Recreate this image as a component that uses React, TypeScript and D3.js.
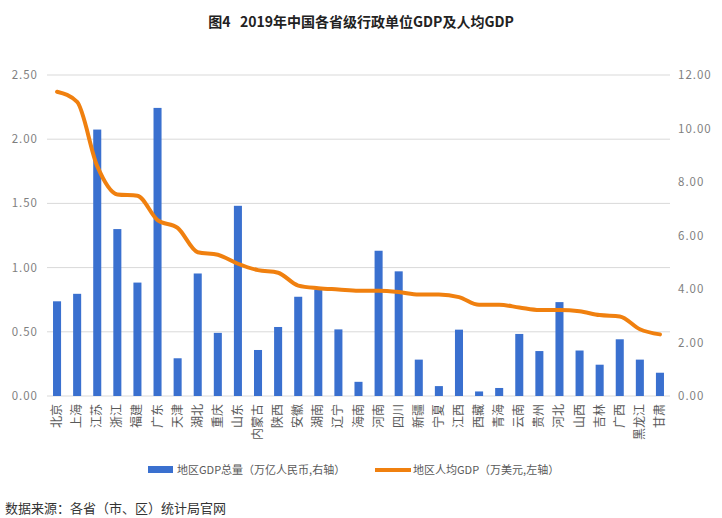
import React from 'react';
import * as d3 from 'd3';

const provinces = ['北京', '上海', '江苏', '浙江', '福建', '广东', '天津', '湖北', '重庆', '山东', '内蒙古', '陕西', '安徽', '湖南', '辽宁', '海南', '河南', '四川', '新疆', '宁夏', '江西', '西藏', '青海', '云南', '贵州', '河北', '山西', '吉林', '广西', '黑龙江', '甘肃'];
// 地区GDP总量 (万亿人民币, right axis)
const gdpTotal = [3.54, 3.82, 9.96, 6.24, 4.24, 10.77, 1.41, 4.58, 2.36, 7.11, 1.72, 2.58, 3.71, 3.98, 2.49, 0.53, 5.43, 4.66, 1.36, 0.37, 2.48, 0.17, 0.30, 2.32, 1.68, 3.51, 1.70, 1.17, 2.12, 1.36, 0.87];
// 地区人均GDP (万美元, left axis)
const gdpPerCapita = [2.37, 2.29, 1.79, 1.57, 1.56, 1.37, 1.31, 1.12, 1.10, 1.03, 0.98, 0.96, 0.86, 0.84, 0.83, 0.82, 0.82, 0.81, 0.79, 0.79, 0.77, 0.71, 0.71, 0.69, 0.67, 0.67, 0.66, 0.63, 0.62, 0.52, 0.48];
const leftTicks = [0, 0.5, 1, 1.5, 2, 2.5];
const rightTicks = [0, 2, 4, 6, 8, 10, 12];

const W = 722;
const H = 518;
const margin = { left: 47, right: 52, top: 75, bottom: 122 };
const BLUE = '#3a70cf';
const ORANGE = '#f0800f';
const font = '"Noto Sans CJK SC", "Noto Sans", sans-serif';

export default function App() {
  const x = d3.scaleBand().domain(provinces).range([margin.left, W - margin.right]).paddingInner(0.6).paddingOuter(0.3);
  const yLeft = d3.scaleLinear().domain([0, 2.5]).range([H - margin.bottom, margin.top]);
  const yRight = d3.scaleLinear().domain([0, 12]).range([H - margin.bottom, margin.top]);
  const cx = (p: string) => (x(p) as number) + x.bandwidth() / 2;

  const line = d3.line<number>()
    .x((_, i) => cx(provinces[i]))
    .y(d => yLeft(d))
    .curve(d3.curveMonotoneX);

  return (
    <svg width={W} height={H} style={{ position: 'absolute', left: 0, top: 0, background: '#fff' }} fontFamily={font}>
      <text x={361} y={27} textAnchor="middle" fontSize={14} fontWeight="bold" fill="#222" style={{ whiteSpace: 'pre' }}>{'图4   2019年中国各省级行政单位GDP及人均GDP'}</text>

      {leftTicks.map(t => (
        <g key={'l' + t}>
          <line x1={margin.left} x2={W - margin.right} y1={yLeft(t)} y2={yLeft(t)} stroke="#d9d9d9" strokeWidth={1} />
          <text x={38} y={yLeft(t) + 4} textAnchor="end" fontSize={11.5} fill="#7f7f7f" letterSpacing={1}>{t.toFixed(2)}</text>
        </g>
      ))}
      {rightTicks.map(t => (
        <text key={'r' + t} x={678} y={yRight(t) + 4} textAnchor="start" fontSize={11.5} fill="#7f7f7f" letterSpacing={1}>{t.toFixed(2)}</text>
      ))}

      {provinces.map((p, i) => (
        <rect key={p} x={x(p)} y={yRight(gdpTotal[i])} width={x.bandwidth()} height={yRight(0) - yRight(gdpTotal[i])} fill={BLUE} />
      ))}

      <path d={line(gdpPerCapita) || ''} fill="none" stroke={ORANGE} strokeWidth={4} strokeLinejoin="round" strokeLinecap="round" />

      {provinces.map(p => (
        <text key={'x' + p} transform={`translate(${cx(p) + 4},${yRight(0) + 8}) rotate(-90)`} textAnchor="end" fontSize={12} fill="#595959">{p}</text>
      ))}

      <g fontSize={11} fill="#595959">
        <rect x={148} y={466} width={25} height={7} fill={BLUE} />
        <text x={177} y={474}>地区GDP总量（万亿人民币,右轴）</text>
        <line x1={375} x2={411} y1={470} y2={470} stroke={ORANGE} strokeWidth={4} />
        <text x={413} y={474}>地区人均GDP（万美元,左轴）</text>
      </g>

      <text x={5} y={513} fontSize={13} fill="#333">数据来源：各省（市、区）统计局官网</text>
    </svg>
  );
}
